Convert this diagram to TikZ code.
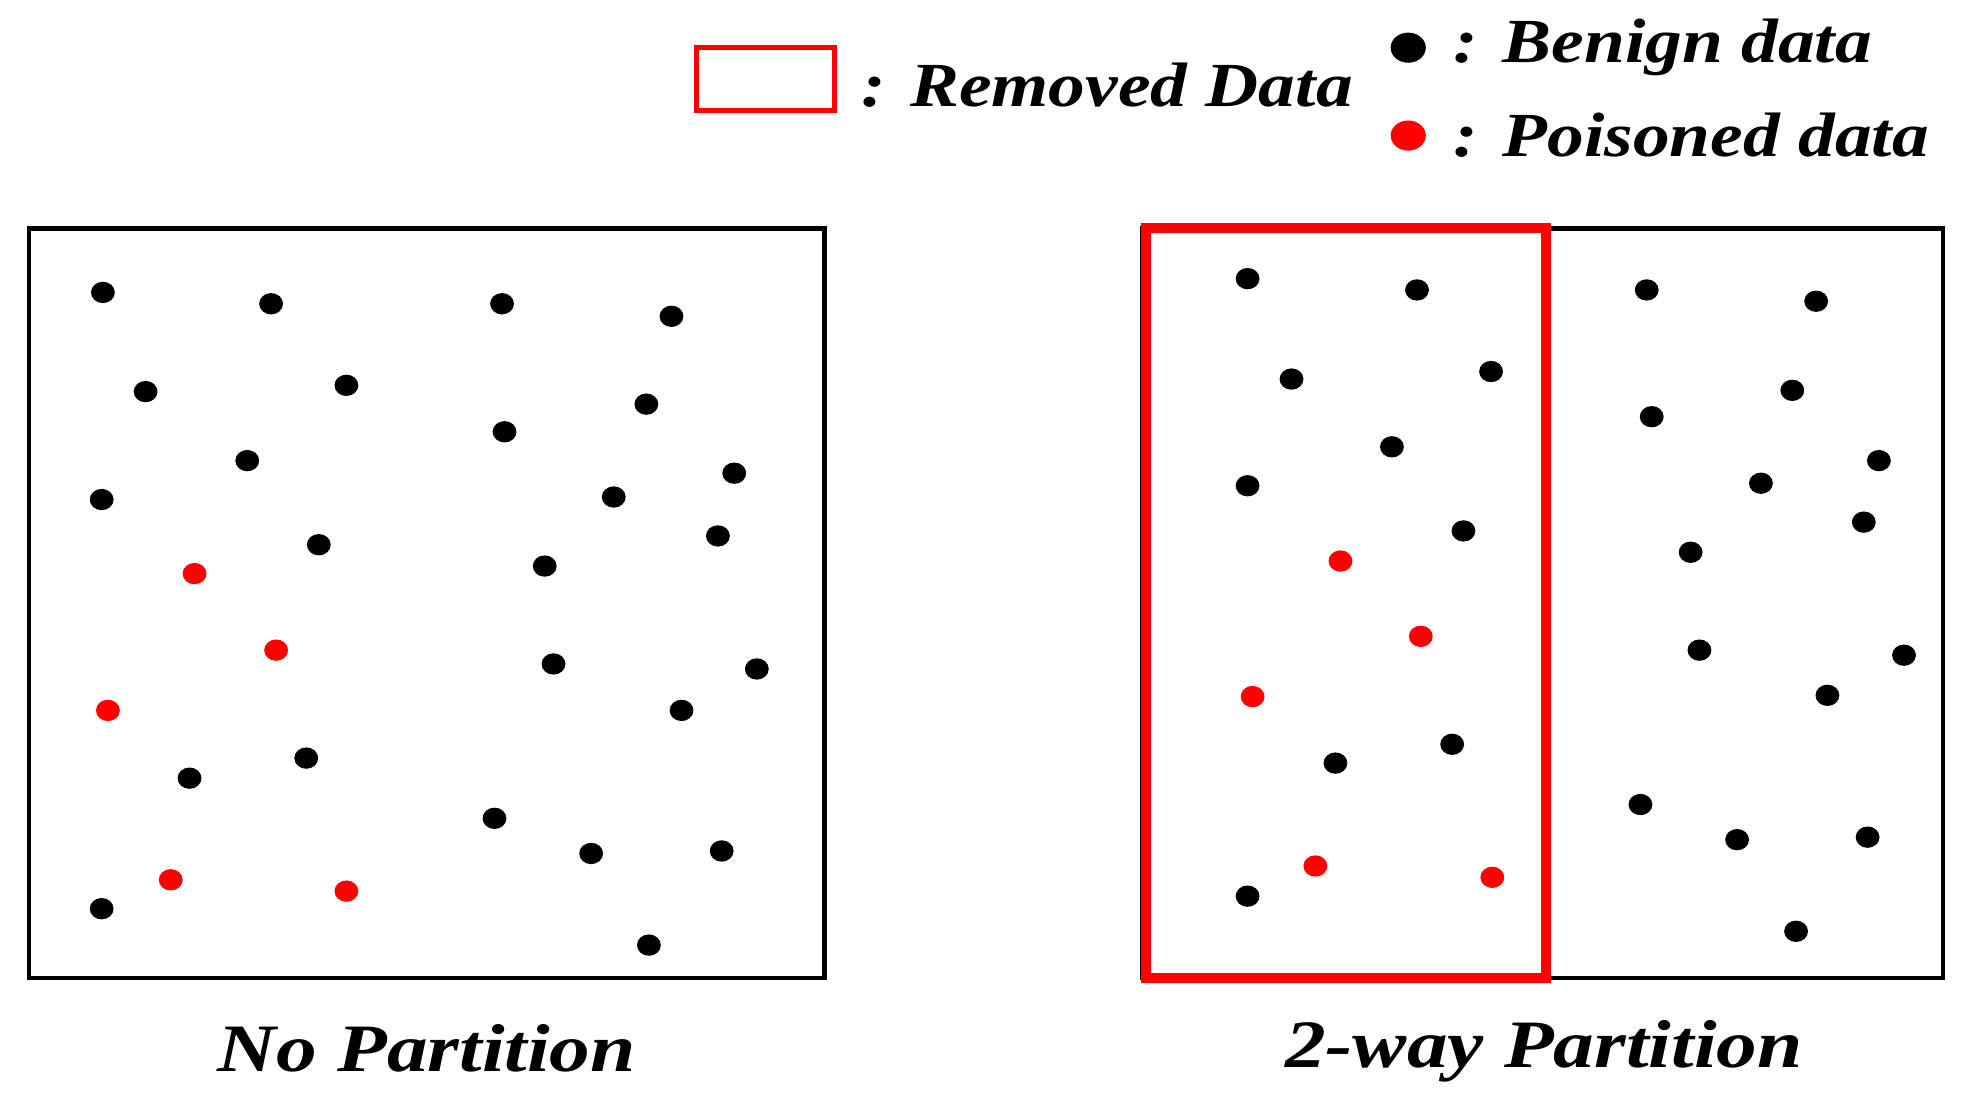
\documentclass[tikz,border=0pt]{standalone}
\usepackage{fontspec}
\setmainfont{Liberation Serif}
\begin{document}
\begin{tikzpicture}[x=1pt,y=-1pt,
  bd/.style={fill=black,draw=none},
  rd/.style={fill=red,draw=none},
  lbl/.style={font=\fontsize{50}{56}\selectfont\bfseries\itshape,inner sep=0pt,xscale=1.17},
  ttl/.style={font=\fontsize{54}{60}\selectfont\bfseries\itshape,inner sep=0pt,xscale=1.2}]
\useasboundingbox (0,0) rectangle (1568,880);
\draw[line width=3.5] (23,182) rectangle (657,779);
\draw[line width=3.5] (910,182) rectangle (1548,779);
\draw[red,line width=8] (913,182) rectangle (1232,779);
\foreach \x/\y in {82/233,216/242,400/242,535/252,116/312,276/307,402/344,515/322,197/367,81/398,489/396,585/377,254/434,572/427,434/451,441/529,603/533,543/566,244/604,151/620,394/652,471/680,575/678,81/724,517/753,
994/222,1129/231,1312/231,1447/240,1029/302,1188/296,1428/311,1316/332,1109/356,994/387,1497/367,1403/385,1485/416,1166/423,1347/440,1354/518,1517/522,1456/554,1157/593,1064/608,1307/641,1384/669,1488/667,994/714,1431/742}
  \fill[bd] (\x,\y) ellipse (9.5 and 8.5);
\foreach \x/\y in {155/457,220/518,86/566,136/701,276/710,1068/447,1132/507,998/555,1048/690,1189/699}
  \fill[rd] (\x,\y) ellipse (9.5 and 8.5);
\draw[red,line width=3.5] (555,38) rectangle (665,88);
\node[lbl,anchor=west] (rm) at (686,68) {: Removed Data};
\fill[bd] (1122,38) ellipse (14 and 12);
\node[lbl,anchor=west] (bn) at (1158,38) {: Benign data};
\fill[rd] (1122,108) ellipse (14 and 12);
\node[lbl,anchor=west] (ps) at (1158,108) {: Poisoned data};
\node[ttl] (t1) at (340,835) {No Partition};
\node[ttl] (t2) at (1230,838) {2-way Partition};
\end{tikzpicture}
\end{document}
